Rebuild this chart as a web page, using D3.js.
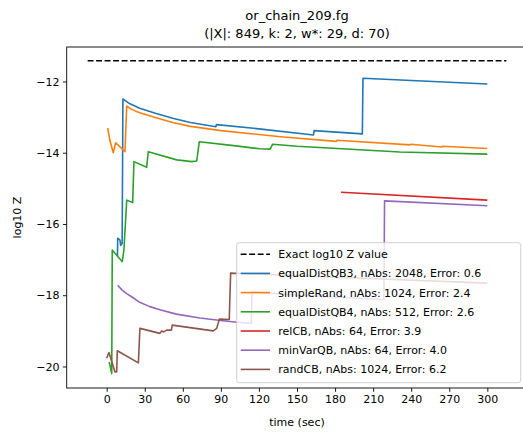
<!DOCTYPE html>
<html>
<head>
<meta charset="utf-8">
<script src="https://cdn.jsdelivr.net/npm/d3@7"></script>
<style>
  body { margin: 0; background: #fff; }
  text { font-family: "DejaVu Sans", sans-serif; fill: #000; }
</style>
</head>
<body>
<div id="chart-area"></div>
<script>
// data: [time (sec), log10 Z]
const exactZ = -11.42
const exactT = [-15, 315]

const equalDistQB3 = [[8.5,-16.9],[8.7,-16.4],[10.5,-16.45],[11,-16.6],[12.2,-16.55],[12.8,-12.49],[18,-12.62],[26,-12.75],[39,-12.9],[52,-13.03],[66,-13.15],[86,-13.27],[86.5,-13.21],[120,-13.33],[163,-13.5],[163.5,-13.38],[201.5,-13.47],[202,-11.91],[300,-12.07]]
const simpleRand = [[0.8,-13.31],[2.5,-13.65],[5.2,-14.0],[7.1,-13.72],[14.4,-13.97],[15.8,-12.69],[20,-12.79],[26,-12.88],[39,-13.02],[52,-13.15],[66,-13.26],[90,-13.38],[137,-13.55],[181,-13.68],[181.5,-13.65],[239,-13.78],[239.5,-13.76],[264,-13.84],[264.5,-13.82],[300,-13.88]]
const equalDistQB4 = [[2,-19.87],[4,-20.2],[4.4,-16.73],[12.3,-17.06],[13.6,-16.73],[15.8,-15.33],[20.5,-15.4],[21.5,-14.25],[31.5,-14.41],[32.8,-13.97],[55.2,-14.2],[67,-14.25],[71,-14.23],[73,-13.69],[100,-13.8],[120.8,-13.89],[128.8,-13.9],[130.8,-13.76],[150,-13.82],[231,-13.98],[300,-14.04]]
const relCB = [[184.7,-15.11],[300,-15.33]]
const minVarQB = [[8.7,-17.72],[12,-17.85],[16,-17.96],[20,-18.05],[26,-18.2],[34,-18.32],[42,-18.41],[55,-18.53],[73.5,-18.64],[90,-18.71],[101,-18.75],[114,-18.79],[114.5,-17.9],[150,-18.0],[218.5,-18.12],[219,-15.35],[300,-15.49]]
const randCB = [[0,-19.77],[1.8,-19.61],[6.5,-20.15],[7.9,-20.15],[8.4,-19.56],[25,-19.9],[26.2,-18.93],[42,-19.07],[43.3,-19.0],[45,-19.03],[47.3,-18.98],[51,-18.98],[51.7,-18.84],[84,-19.0],[86.7,-18.93],[88.8,-18.67],[96.6,-18.68],[97.7,-17.38],[105,-17.39],[300,-17.66]]

const seriesNames = ['equalDistQB3, nAbs: 2048, Error: 0.6', 'simpleRand, nAbs: 1024, Error: 2.4',
  'equalDistQB4, nAbs: 512, Error: 2.6', 'relCB, nAbs: 64, Error: 3.9',
  'minVarQB, nAbs: 64, Error: 4.0', 'randCB, nAbs: 1024, Error: 6.2']
const seriesData = [equalDistQB3, simpleRand, equalDistQB4, relCB, minVarQB, randCB]
const colors = ['#1f77b4', '#ff7f0e', '#2ca02c', '#d62728', '#9467bd', '#8c564b']
const xTicks = d3.range(0, 301, 30)
const yTicks = [-20, -18, -16, -14, -12]

const W = 523, H = 432
const box = {left: 66.7, right: 527.3, top: 47, bottom: 388}

const svg = d3.select('#chart-area').append('svg')
  .attr('width', W)
  .attr('height', H)

const x = d3.scaleLinear().domain([-31.5, 331.5]).range([box.left, box.right])
const y = d3.scaleLinear().domain([-20.604, -11.032]).range([box.bottom, box.top])

svg.append('clipPath').attr('id', 'clip')
  .append('rect').attr('x', box.left).attr('y', box.top)
  .attr('width', box.right - box.left).attr('height', box.bottom - box.top)

const line = d3.line().x(d => x(d[0])).y(d => y(d[1]))
const plot = svg.append('g').attr('clip-path', 'url(#clip)')

plot.append('path')
  .attr('d', line(exactT.map(t => [t, exactZ])))
  .attr('fill', 'none').attr('stroke', '#000').attr('stroke-width', 1.6)
  .attr('stroke-dasharray', '5.9,2.6')

seriesData.forEach((s, i) => {
  plot.append('path')
    .attr('d', line(s))
    .attr('fill', 'none')
    .attr('stroke', colors[i])
    .attr('stroke-width', 1.6)
    .attr('stroke-linejoin', 'round')
})

// axes
const xAxis = d3.axisBottom(x).tickValues(xTicks).tickSize(3.8).tickPadding(3.5)
const yAxis = d3.axisLeft(y).tickValues(yTicks).tickSize(3.8).tickPadding(3.5)
  .tickFormat(d => String(d).replace('-', '\u2212'))

const gx = svg.append('g').attr('transform', `translate(0,${box.bottom})`).call(xAxis)
const gy = svg.append('g').attr('transform', `translate(${box.left},0)`).call(yAxis)
;[gx, gy].forEach(g => {
  g.select('.domain').remove()
  g.selectAll('line').attr('stroke', '#000').attr('stroke-width', 0.9)
  g.selectAll('text').attr('font-size', 11).attr('font-family', 'DejaVu Sans').attr('fill', '#000')
})

// spines
svg.append('rect')
  .attr('x', box.left).attr('y', box.top)
  .attr('width', box.right - box.left).attr('height', box.bottom - box.top)
  .attr('fill', 'none').attr('stroke', '#000').attr('stroke-width', 0.9)

// labels
const cx = (box.left + box.right) / 2
svg.append('text').attr('x', cx).attr('y', 425.5)
  .attr('text-anchor', 'middle').attr('font-size', 11).text('time (sec)')
svg.append('text').attr('transform', `translate(20.5,${(box.top + box.bottom) / 2}) rotate(-90)`)
  .attr('text-anchor', 'middle').attr('font-size', 11).text('log10 Z')
svg.append('text').attr('x', cx).attr('y', 20)
  .attr('text-anchor', 'middle').attr('font-size', 13).text('or_chain_209.fg')
svg.append('text').attr('x', cx).attr('y', 37.5)
  .attr('text-anchor', 'middle').attr('font-size', 13).text('(|X|: 849, k: 2, w*: 29, d: 70)')

// legend
const lg = svg.append('g').attr('transform', 'translate(236.7,242.7)')
lg.append('rect').attr('width', 284).attr('height', 140).attr('rx', 2.5)
  .attr('fill', '#fff').attr('fill-opacity', 0.8).attr('stroke', '#ccc').attr('stroke-width', 0.9)

const legendItems = [{name: 'Exact log10 Z value', color: '#000', dash: '5.9,2.6'}]
  .concat(seriesNames.map((n, i) => ({name: n, color: colors[i], dash: null})))

legendItems.forEach((d, i) => {
  const ly = 11.5 + i * 19.2
  lg.append('line').attr('x1', 4).attr('x2', 33.3).attr('y1', ly).attr('y2', ly)
    .attr('stroke', d.color).attr('stroke-width', 1.6)
    .attr('stroke-dasharray', d.dash)
  lg.append('text').attr('x', 41.6).attr('y', ly + 4).attr('font-size', 11).text(d.name)
})
</script>
</body>
</html>
